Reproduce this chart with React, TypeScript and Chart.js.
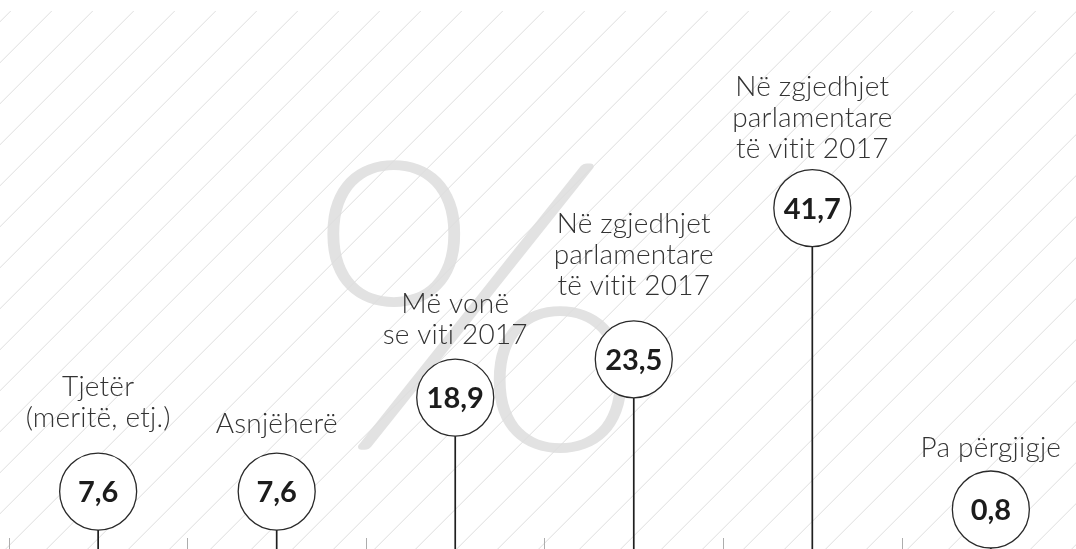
import React, { useEffect, useRef } from "react";
import { Chart, registerables } from "chart.js";

Chart.register(...registerables);

// ---- data ----
const categoryLabels: string[][] = [
  ["Tjetër", "(meritë, etj.)"],
  ["Asnjëherë"],
  ["Më vonë", "se viti 2017"],
  ["Në zgjedhjet", "parlamentare", "të vitit 2017"],
  ["Në zgjedhjet", "parlamentare", "të vitit 2017"],
  ["Pa përgjigje"],
];
const values: number[] = [7.6, 7.6, 18.9, 23.5, 41.7, 0.8];
const unitSymbol = "%";

// ---- axis ranges ----
const xMin = -0.5497;
const xMax = 5.4769;
const yMin = 0.69;
const yMax = 66.72;

// ---- layout (label spacing above each circle, px) ----
const labelGaps: number[] = [26, 20, 15, 26, 11.5, 14];

const fmt = (v: number) => v.toFixed(1).replace(".", ",");

const R = 38.5;
const LABEL_FONT = "300 28px Lato, 'Open Sans', sans-serif";
const VALUE_FONT = "700 29px Lato, 'Open Sans', sans-serif";
const LINE_H = 31;

const lollipopPlugin = {
  id: "lollipop",
  beforeDatasetsDraw(chart: any) {
    const { ctx, chartArea, scales } = chart;
    const W = chart.width;
    const H = chart.height;
    ctx.save();
    ctx.fillStyle = "#ffffff";
    ctx.fillRect(0, 0, W, H);

    // watermark percent sign
    ctx.save();
    ctx.font = "200 400px Lato, sans-serif";
    const m = ctx.measureText(unitSymbol);
    const gw = m.actualBoundingBoxLeft + m.actualBoundingBoxRight;
    const gh = m.actualBoundingBoxAscent + m.actualBoundingBoxDescent;
    const box = { x: 327, y: 159, w: 302, h: 294 };
    const sx = box.w / gw;
    const sy = box.h / gh;
    ctx.translate(box.x, box.y);
    ctx.scale(sx, sy);
    ctx.fillStyle = "#e2e2e2";
    ctx.strokeStyle = "#e2e2e2";
    ctx.lineJoin = "round";
    ctx.lineWidth = 6.5 / ((sx + sy) / 2);
    ctx.textAlign = "left";
    ctx.textBaseline = "alphabetic";
    ctx.fillText(unitSymbol, m.actualBoundingBoxLeft, m.actualBoundingBoxAscent);
    ctx.strokeText(unitSymbol, m.actualBoundingBoxLeft, m.actualBoundingBoxAscent);
    ctx.restore();

    // diagonal hatch
    ctx.save();
    const top = 11;
    ctx.beginPath();
    ctx.rect(0, top, W, H - top);
    ctx.clip();
    ctx.strokeStyle = "#dedede";
    ctx.lineWidth = 1;
    ctx.beginPath();
    for (let c = 21.7; c < W + H + 50; c += 41) {
      ctx.moveTo(c - top, top);
      ctx.lineTo(c - H, H);
    }
    ctx.stroke();
    ctx.restore();

    // category separator ticks
    ctx.strokeStyle = "#adadad";
    ctx.lineWidth = 1;
    ctx.beginPath();
    for (let i = 0; i <= values.length; i++) {
      const x = Math.round(scales.x.getPixelForValue(i - 0.5)) + 0.5;
      ctx.moveTo(x, chartArea.bottom - 11);
      ctx.lineTo(x, chartArea.bottom);
    }
    ctx.stroke();
    ctx.restore();
  },
  afterDatasetsDraw(chart: any) {
    const { ctx, chartArea, scales } = chart;
    ctx.save();
    values.forEach((v, i) => {
      const x = scales.x.getPixelForValue(i);
      const yv = scales.y.getPixelForValue(v);
      const cy = Math.min(yv, chartArea.bottom - R - 1);

      // stem
      ctx.strokeStyle = "#1f1f1f";
      ctx.lineWidth = 1.7;
      ctx.beginPath();
      ctx.moveTo(x, cy + R);
      ctx.lineTo(x, chartArea.bottom);
      ctx.stroke();

      // circle
      ctx.beginPath();
      ctx.arc(x, cy, R, 0, Math.PI * 2);
      ctx.fillStyle = "#ffffff";
      ctx.fill();
      ctx.strokeStyle = "#2a2a2a";
      ctx.lineWidth = 1.3;
      ctx.stroke();

      // value
      ctx.fillStyle = "#1c1c1c";
      ctx.font = VALUE_FONT;
      ctx.textAlign = "center";
      ctx.textBaseline = "alphabetic";
      ctx.fillText(fmt(v), x, cy + 10.5);

      // label lines
      ctx.save();
      ctx.fillStyle = "#333333";
      ctx.font = LABEL_FONT;
      try {
        (ctx as any).letterSpacing = "0.2px";
      } catch (e) {}
      const lines = categoryLabels[i];
      const lastBase = cy - R - labelGaps[i];
      lines.forEach((ln, k) => {
        const yb = lastBase - (lines.length - 1 - k) * LINE_H;
        ctx.fillText(ln, x, yb);
      });
      ctx.restore();
    });
    ctx.restore();
  },
};

export default function App() {
  const ref = useRef<HTMLCanvasElement | null>(null);
  useEffect(() => {
    const canvas = ref.current;
    if (!canvas) return;
    const chart = new Chart(canvas, {
      type: "scatter",
      data: {
        labels: categoryLabels.map((l) => l.join(" ")),
        datasets: [
          {
            label: "%",
            data: values.map((v, i) => ({ x: i, y: v })),
            pointRadius: 0,
            pointHoverRadius: 0,
          },
        ],
      },
      options: {
        animation: false,
        responsive: false,
        maintainAspectRatio: false,
        events: [],
        layout: { padding: 0 },
        plugins: {
          legend: { display: false },
          tooltip: { enabled: false },
          title: { display: false },
        },
        scales: {
          x: { type: "linear", min: xMin, max: xMax, display: false },
          y: { type: "linear", min: yMin, max: yMax, display: false },
        },
      },
      plugins: [lollipopPlugin],
    });
    let alive = true;
    if ((document as any).fonts && (document as any).fonts.ready) {
      (document as any).fonts.ready.then(() => {
        if (alive) chart.update();
      });
    }
    return () => {
      alive = false;
      chart.destroy();
    };
  }, []);
  return (
    <div style={{ position: "fixed", left: 0, top: 0, width: 1076, height: 549, background: "#fff" }}>
      <canvas ref={ref} width={1076} height={549} style={{ display: "block", width: 1076, height: 549 }} />
    </div>
  );
}
